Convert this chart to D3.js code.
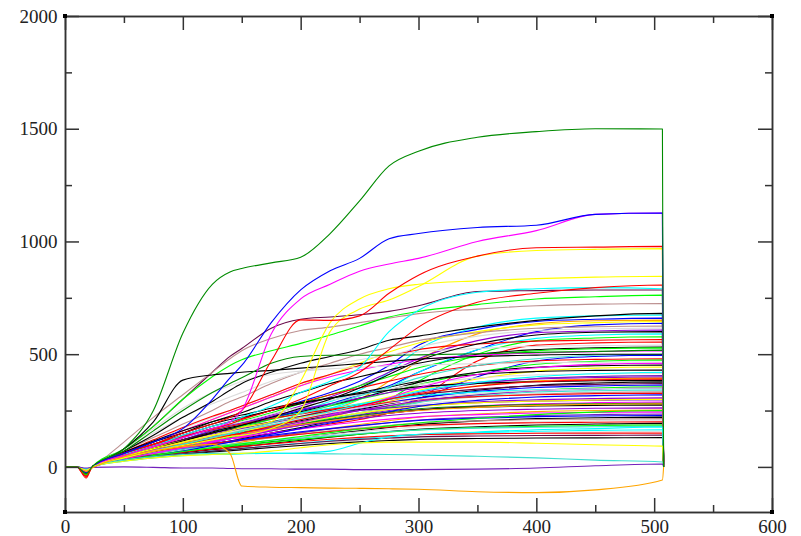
<!DOCTYPE html>
<html>
<head>
<meta charset="utf-8">
<script src="https://cdn.jsdelivr.net/npm/d3@7"></script>
<style>
	body { margin: 0; background: #fff; }
	.axis path, .axis line { stroke: #333; stroke-width: 1.5; }
	.axis text { fill: #222; }
</style>
</head>
<body>
<div id="chart"></div>
<script>
// shared time grid (x) for every curve
const xGrid = [0, 10, 18, 23, 50, 75, 100, 125, 140, 150, 175, 200, 225, 250, 275, 300, 350, 400, 450, 507, 508];

const xMajor = [0, 100, 200, 300, 400, 500, 600];
const xMinor = [50, 150, 250, 350, 450, 550];
const yMajor = [0, 500, 1000, 1500, 2000];
const yMinor = [250, 750, 1250, 1750];

// grace default palette
const palette = {
	black: '#000000', red: '#ff0000', green: '#00ff00', blue: '#0000ff',
	yellow: '#ffff00', brown: '#bc8f8f', grey: '#dcdcdc', violet: '#9400d3',
	cyan: '#00ffff', magenta: '#ff00ff', orange: '#ffa500', indigo: '#7221bc',
	maroon: '#670748', turquoise: '#40e0d0', green4: '#008b00'
};

// the bulk of the curves
const bundleValues = [
	[0,0,-20,0, 45,80,115,150,170,185,215,250,290,340,420,520,620,660,670,674,0],
	[0,0,-25,0, 55,95,140,180,200,215,250,290,330,380,450,540,610,645,655,660,0],
	[0,0,-20,0, 40,65,95,125,140,150,175,210,250,300,380,470,590,635,648,651,0],
	[0,0,-15,0, 60,110,160,210,240,260,310,360,410,460,510,550,600,630,640,645,0],
	[0,0,-25,0, 50,85,120,160,175,190,220,250,280,320,360,420,520,600,630,637,0],
	[0,0,-15,0, 70,130,190,250,290,310,370,420,460,500,530,560,595,615,622,625,0],
	[0,0,-15,0, 60,110,170,220,250,270,320,370,410,450,490,530,580,605,612,616,0],
	[0,0,-20,0, 45,80,120,160,180,195,230,270,310,360,420,480,560,595,603,607,0],
	[0,0,-15,0, 40,70,100,135,150,160,190,220,260,300,350,420,520,570,585,590,0],
	[0,0,-30,0, 35,60,90,120,135,145,170,200,230,260,300,380,500,560,572,577,0],
	[0,0,-40,0, 65,120,175,225,250,270,320,370,410,450,490,520,545,558,562,565,0],
	[0,0,-35,0, 40,65,90,110,125,130,150,170,190,210,240,300,470,540,550,554,0],
	[0,0,-10,0, 80,150,220,280,310,330,380,420,450,475,495,510,525,535,538,540,0],
	[0,0,-20,0, 55,100,150,200,225,240,290,330,370,400,430,460,500,520,528,532,0],
	[0,0,-30,0, 50,90,130,170,190,205,240,280,320,360,400,440,490,515,524,528,0],
	[0,0,-20,0, 60,110,160,210,240,260,310,360,400,430,455,475,495,505,511,515,0],
	[0,0,-25,0, 40,70,95,120,135,145,165,190,210,230,260,300,400,470,490,496,0],
	[0,0,-40,0, 55,100,140,180,200,215,250,285,320,350,380,410,450,470,477,480,0],
	[0,0,-30,0, 45,80,115,150,170,180,210,240,270,300,330,365,420,455,468,474,0],
	[0,0,-10,0, 80,170,260,330,360,380,410,425,435,442,448,452,458,462,464,465,0],
	[0,0,-20,0, 50,85,120,155,175,185,215,245,275,305,340,375,420,442,449,452,0],
	[0,0,-15,0, 45,80,110,140,155,165,190,220,250,280,310,340,390,425,438,443,0],
	[0,0,-20,0, 60,110,150,190,210,220,250,280,305,330,355,380,410,423,428,430,0],
	[0,0,-10,0, 50,90,130,170,190,200,235,265,295,320,345,365,395,408,413,416,0],
	[0,0,-20,0, 40,70,100,130,145,155,180,210,240,270,300,330,370,392,401,405,0],
	[0,0,-20,0, 55,95,135,170,185,195,225,255,280,305,330,350,375,390,396,399,0],
	[0,0,-20,0, 35,60,85,110,125,135,160,190,220,255,290,320,360,382,390,394,0],
	[0,0,-20,0, 65,115,160,200,220,230,260,285,305,325,340,355,370,378,382,385,0],
	[0,0,-20,0, 40,70,100,130,145,155,180,205,230,255,280,305,340,362,372,377,0],
	[0,0,-20,0, 50,85,120,150,165,175,200,225,250,275,300,320,345,360,366,370,0],
	[0,0,-25,0, 45,75,105,135,150,160,185,210,235,260,285,305,335,352,359,363,0],
	[0,0,-30,0, 40,65,90,115,130,140,165,190,215,240,265,290,320,340,350,355,0],
	[0,0,-15,0, 55,95,130,165,180,190,215,240,260,280,300,315,332,342,346,348,0],
	[0,0,-10,0, 35,60,85,110,125,135,160,185,210,235,260,285,315,332,338,341,0],
	[0,0,-15,0, 45,75,105,135,150,160,185,210,230,250,270,290,310,323,330,333,0],
	[0,0,-40,0, 60,100,135,165,180,190,215,235,255,270,285,298,312,320,325,327,0],
	[0,0,-10,0, 40,70,95,120,135,145,170,195,220,240,260,278,298,310,315,318,0],
	[0,0,-20,0, 35,60,85,110,125,135,160,185,210,230,250,268,288,298,303,306,0],
	[0,0,-20,0, 50,85,115,145,160,170,195,215,235,250,262,272,285,292,296,298,0],
	[0,0,-20,0, 40,70,95,120,135,145,165,185,205,222,238,252,270,280,285,288,0],
	[0,0,-25,0, 45,75,100,125,140,150,170,190,210,228,244,258,270,277,280,282,0],
	[0,0,-20,0, 35,60,80,100,115,125,150,175,200,220,238,252,265,270,273,275,0],
	[0,0,-20,0, 50,80,105,130,140,150,168,185,200,215,228,238,250,256,260,262,0],
	[0,0,-20,0, 30,50,70,90,100,110,130,150,170,188,205,220,235,245,250,252,0],
	[0,0,-20,0, 45,75,95,115,125,132,150,168,185,200,212,222,232,239,242,244,0],
	[0,0,-20,0, 35,60,80,100,110,118,135,152,168,182,196,208,220,228,232,235,0],
	[0,0,-25,0, 40,65,85,105,115,122,140,156,170,184,196,206,216,223,226,228,0],
	[0,0,-20,0, 30,50,65,80,90,96,112,128,145,160,175,188,204,214,218,221,0],
	[0,0,-15,0, 40,65,85,102,110,116,130,145,160,172,184,194,204,210,212,214,0],
	[0,0,-10,0, 35,55,72,88,96,102,116,130,144,156,168,178,192,200,205,208,0],
	[0,0,-40,0, 45,70,88,104,112,118,132,145,157,168,177,184,192,196,198,200,0],
	[0,0,-20,0, 30,48,62,76,84,90,104,118,132,145,157,167,178,186,190,193,0],
	[0,0,-30,0, 35,55,70,84,92,97,110,122,134,145,155,164,174,180,184,186,0],
	[0,0,-10,0, 40,62,78,92,100,105,117,128,138,148,157,164,172,176,178,180,0],
	[0,0,-15,0, 30,46,58,70,77,82,94,105,116,126,135,143,152,158,162,165,0],
	[0,0,-10,0, 25,40,52,64,70,75,86,97,108,118,127,135,145,151,155,158,0],
	[0,0,-40,0, 35,52,65,78,85,90,102,113,123,131,138,143,147,149,150,150,0],
	[0,0,-20,0, 30,46,58,70,77,82,93,104,114,122,128,133,137,139,140,141,0],
	[0,0,-20,0, 28,42,54,66,72,76,86,95,104,111,117,122,126,128,129,130,0],
	[0,0,-15,0, 40,70,100,130,145,155,185,215,245,275,305,335,375,400,413,420,0],
	[0,0,-20,0, 35,60,85,110,125,135,165,195,230,265,305,350,410,440,455,460,0],
	[0,0,-15,0, 50,85,115,140,152,160,180,200,220,238,255,268,284,292,297,300,0],
	[0,0,-25,0, 30,50,70,95,110,120,145,170,195,220,245,268,295,310,316,320,0],
	[0,0,-30,0, 30,50,68,86,96,102,118,135,152,168,182,195,215,232,243,250,0],
	[0,0,-20,0, 40,68,95,122,138,148,175,200,225,250,272,292,320,338,346,350,0],
	[0,0,-20,0, 50,80,105,128,140,148,168,188,205,222,238,250,264,273,278,280,0],
	[0,0,-40,0, 40,68,95,122,140,150,180,210,240,270,300,325,358,378,386,390,0],
	[0,0,-10,0, 45,80,110,140,155,165,190,215,240,262,282,300,325,340,347,350,0],
	[0,0,-20,0, 45,80,115,150,170,185,220,260,300,350,410,470,545,585,597,600,0],
	[0,0,-10,0, 40,70,100,130,148,160,195,235,275,315,355,395,450,480,495,500,0]
];
const bundleColors = [
	'cyan', 'blue', 'orange', 'yellow', 'blue', 'brown', 'grey', 'violet', 'cyan', 'green',
	'red', 'red', 'grey', 'black', 'green', 'magenta', 'blue', 'red', 'green', 'grey',
	'black', 'yellow', 'black', 'grey', 'indigo', 'violet', 'orange', 'black', 'black', 'maroon',
	'blue', 'green', 'cyan', 'turquoise', 'brown', 'red', 'grey', 'violet', 'indigo', 'magenta',
	'green4', 'black', 'violet', 'orange', 'magenta', 'indigo', 'blue', 'black', 'brown', 'grey',
	'red', 'black', 'green', 'turquoise', 'cyan', 'grey', 'red', 'maroon', 'black', 'cyan',
	'magenta', 'yellow', 'blue', 'green', 'violet', 'orange', 'red', 'grey', 'black', 'turquoise'
];

// the curves that stand out from the bundle
const outlierValues = [
	[0,0,-20,0, 80,180,300,420,490,525,615,655,665,675,690,715,778,782,785,785,0],
	[0,0,-15,0, 110,220,320,420,480,515,570,605,620,640,660,680,700,715,722,725,0],
	[0,0,-35,0, 80,180,300,400,450,475,515,548,585,625,665,690,720,745,755,762,0],
	[0,0,-20,0, 80,200,385,408,415,420,428,438,448,458,468,478,490,496,500,500,0],
	[0,0,-20,0, 70,140,220,290,340,370,420,460,490,520,562,580,620,650,670,681,0],
	[0,0,-25,0, 70,160,250,330,370,395,460,490,495,495,495,497,502,508,512,518,0],
	[0,0,-15,0, 50,90,140,180,200,220,270,330,380,440,600,695,775,790,795,790,0],
	[0,0,-30,0, 50,90,130,170,190,210,250,300,360,420,520,620,730,770,795,807,0],
	[0,0,-15,0, 45,80,110,140,160,175,200,380,640,745,790,810,825,835,842,846,0],
	[0,0,-20,0, 40,70,95,120,135,140,170,250,600,700,740,800,935,960,965,968,0],
	[0,0,-49,0, 60,100,150,190,220,250,470,652,650,670,770,850,935,972,975,978,0],
	[0,0,-20,0, 50,90,130,170,200,250,590,745,810,868,900,925,1000,1048,1120,1126,0],
	[0,0,-25,0, 60,110,170,300,395,450,640,785,870,925,1012,1035,1062,1072,1120,1126,0],
	[0,0,-10,0, 30,45,55,60,60,60,60,60,58,57,55,53,47,40,30,22,0],
	[0,0,-10,0, 25,40,50,55,55,58,60,62,70,105,133,145,155,165,170,177,0],
	[0,0,-15,0, 25,40,50,55,58,60,70,85,98,106,110,110,110,105,98,92,0],
	[0,0,-5,-2, 0,-2,-5,-5,-7,-8,-8,-10,-10,-12,-12,-12,-10,-5,5,13,0],
	[0,0,-20,-5, 45,70,90,100,60,-85,-90,-92,-94,-95,-97,-99,-110,-114,-102,-58,0],
	[0,0,-30,0, 80,250,593,810,865,880,905,930,1035,1180,1335,1400,1462,1487,1500,1499,0]
];
const outlierColors = [
	'maroon', 'brown', 'green', 'black', 'black', 'green4', 'cyan', 'red', 'yellow', 'yellow',
	'red', 'magenta', 'blue', 'turquoise', 'cyan', 'yellow', 'indigo', 'orange', 'green4'
];

const width = 801, height = 536;
const margin = { left: 65, right: 29, top: 16, bottom: 24 };
const labelFont = '"Liberation Serif", "Times New Roman", "DejaVu Serif", serif';

const svg = d3.select('#chart').append('svg')
	.attr('width', width)
	.attr('height', height);

const xScale = d3.scaleLinear()
	.domain([0, 600])
	.range([margin.left, width - margin.right]);

const yScale = d3.scaleLinear()
	.domain([-200, 2000])
	.range([height - margin.bottom, margin.top]);

const line = d3.line()
	.x((d, i) => xScale(xGrid[i]))
	.y(d => yScale(d))
	.curve(d3.curveMonotoneX);

const curves = svg.append('g').attr('class', 'curves')
	.attr('fill', 'none')
	.attr('stroke-width', 1.1)
	.attr('stroke-linejoin', 'round');

const allValues = bundleValues.concat(outlierValues);
const allColors = bundleColors.concat(outlierColors);

curves.selectAll('path')
	.data(allValues)
	.join('path')
	.attr('stroke', (d, i) => palette[allColors[i]])
	.attr('d', d => line(d));

// frame with inward ticks on all four sides
const x0 = margin.left, x1 = width - margin.right;
const y0 = height - margin.bottom, y1 = margin.top;

function frameAxis(axis, transform, values, size, labels) {
	const g = svg.append('g').attr('class', 'axis')
		.attr('transform', transform)
		.call(axis.tickValues(values).tickSizeInner(-size).tickSizeOuter(0).tickPadding(7.5)
			.tickFormat(labels ? d3.format('d') : ''));
	g.attr('font-family', labelFont).attr('font-size', 19);
	return g;
}

frameAxis(d3.axisBottom(xScale), `translate(0, ${y0})`, xMajor, 14, true);
frameAxis(d3.axisBottom(xScale), `translate(0, ${y0})`, xMinor, 7, false);
frameAxis(d3.axisTop(xScale), `translate(0, ${y1})`, xMajor, 14, false);
frameAxis(d3.axisTop(xScale), `translate(0, ${y1})`, xMinor, 7, false);
frameAxis(d3.axisLeft(yScale), `translate(${x0}, 0)`, yMajor, 14, true);
frameAxis(d3.axisLeft(yScale), `translate(${x0}, 0)`, yMinor, 7, false);
frameAxis(d3.axisRight(yScale), `translate(${x1}, 0)`, yMajor, 14, false);
frameAxis(d3.axisRight(yScale), `translate(${x1}, 0)`, yMinor, 7, false);

// little corner marks like grace draws
svg.append('g').selectAll('rect')
	.data([[x0, y0], [x0, y1], [x1, y0], [x1, y1]])
	.join('rect')
	.attr('x', d => d[0] - 2)
	.attr('y', d => d[1] - 2)
	.attr('width', 4)
	.attr('height', 4)
	.attr('fill', '#000');
</script>
</body>
</html>
